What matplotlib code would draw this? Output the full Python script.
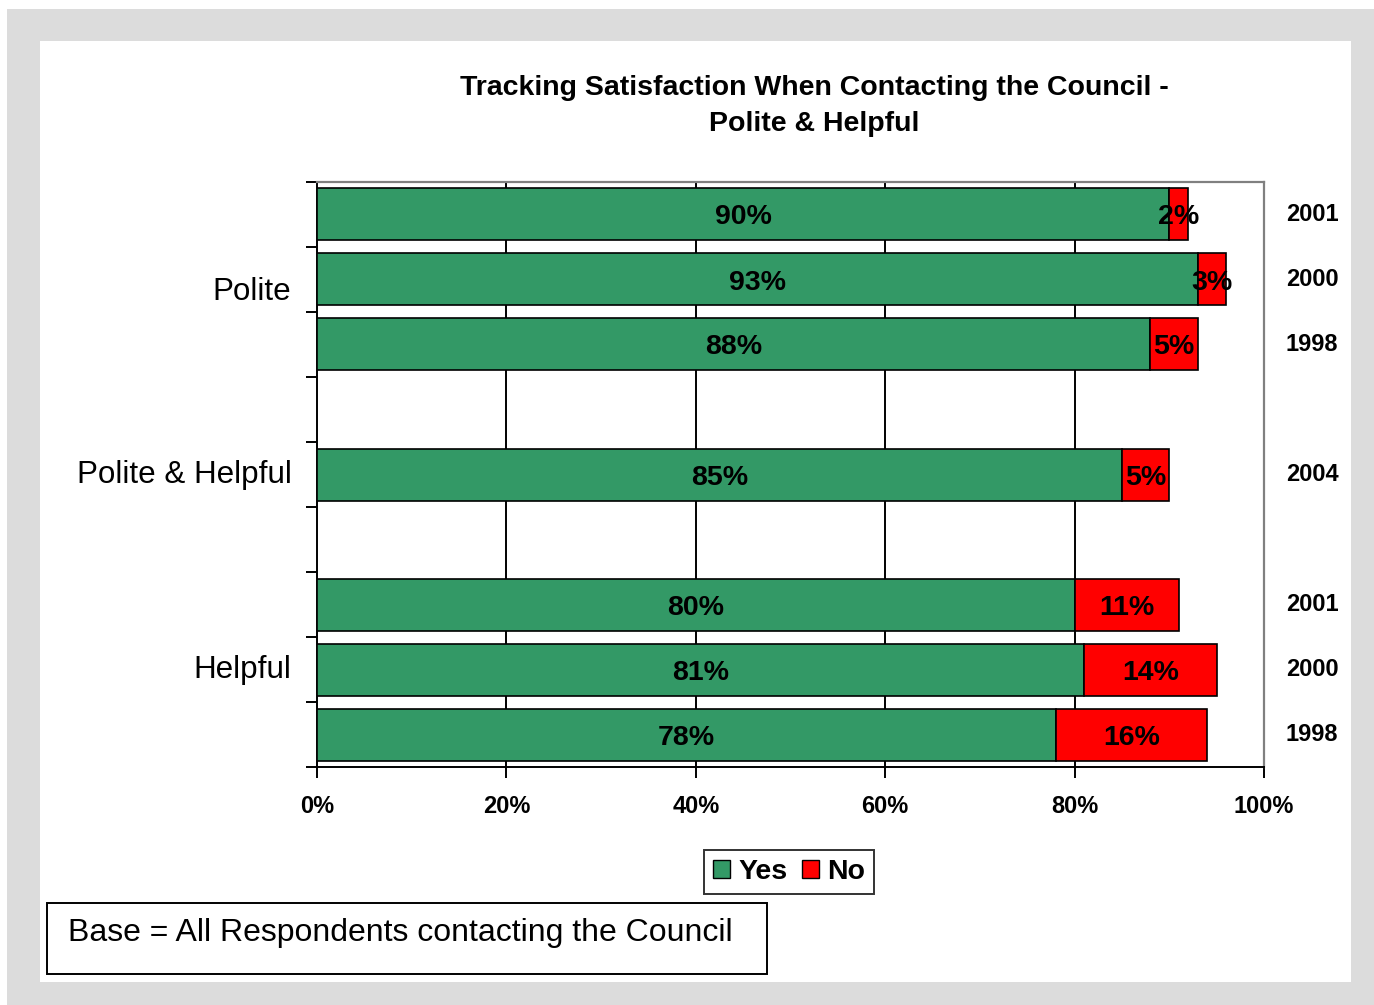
import matplotlib
matplotlib.use("Agg")
import matplotlib.pyplot as plt
from matplotlib.patches import Rectangle, Patch

plt.rcParams['font.family'] = ['Liberation Sans', 'DejaVu Sans']

# rows from top to bottom; None marks an empty spacer row
years = ['2001', '2000', '1998', None, '2004', None, '2001', '2000', '1998']
yes_vals = [90, 93, 88, None, 85, None, 80, 81, 78]
no_vals = [2, 3, 5, None, 5, None, 11, 14, 16]
groups = ['Polite', 'Polite & Helpful', 'Helpful']
group_pos = [1.2, 4, 7]
x_ticks = [0, 20, 40, 60, 80, 100]

GREEN = '#339966'
RED = '#FF0000'
W, H = 1374, 1005


def fx(px):
    return px / W


def fy(py):
    return 1 - py / H


fig = plt.figure(figsize=(W / 100, H / 100), dpi=100)
fig.patch.set_facecolor('white')

# grey frame and white panel behind everything
fig.patches.append(Rectangle((fx(7), fy(1005)), fx(1374 - 7), (1005 - 9) / H,
                             transform=fig.transFigure, facecolor='#DCDCDC',
                             edgecolor='none', zorder=-10))
fig.patches.append(Rectangle((fx(40), fy(982)), fx(1351 - 40), (982 - 41) / H,
                             transform=fig.transFigure, facecolor='white',
                             edgecolor='none', zorder=-9))

ax = fig.add_axes([fx(317), fy(767), fx(1264 - 317), (767 - 182) / H])
ax.set_facecolor('none')

n = len(years)
rows = [i for i in range(n) if years[i] is not None]
ys = [yes_vals[i] for i in rows]
ns = [no_vals[i] for i in rows]

ax.barh(rows, ys, height=0.8, color=GREEN, edgecolor='black', linewidth=1.2, zorder=3)
ax.barh(rows, ns, left=ys, height=0.8, color=RED, edgecolor='black', linewidth=1.2, zorder=3)

for r, y, nv in zip(rows, ys, ns):
    ax.text(y / 2, r, f'{y}%', ha='center', va='center_baseline', fontsize=20.5,
            fontweight='bold', zorder=4)
    ax.text(y + nv / 2, r, f'{nv}%', ha='center', va='center_baseline', fontsize=20.5,
            fontweight='bold', zorder=4)
    ax.text(102.3, r, years[r], ha='left', va='center', fontsize=17,
            fontweight='bold', clip_on=False)

for g, p in zip(groups, group_pos):
    ax.text(-2.7, p, g, ha='right', va='center', fontsize=22.6, clip_on=False)

ax.set_xlim(0, 100)
ax.set_ylim(n - 0.5, -0.5)
ax.set_xticks(x_ticks)
ax.set_xticklabels([f'{t}%' for t in x_ticks], fontsize=17, fontweight='bold')
ax.set_yticks([i - 0.5 for i in range(n + 1)])
ax.set_yticklabels([])
ax.tick_params(axis='both', direction='out', length=8, width=1.4, color='black')
ax.tick_params(axis='x', pad=12)

for t in x_ticks[1:-1]:
    ax.axvline(t, color='black', linewidth=1.4, zorder=1)

ax.spines['left'].set_color('black')
ax.spines['bottom'].set_color('black')
ax.spines['left'].set_linewidth(1.4)
ax.spines['bottom'].set_linewidth(1.4)
ax.spines['top'].set_color('#808080')
ax.spines['right'].set_color('#808080')
ax.spines['top'].set_linewidth(1.6)
ax.spines['right'].set_linewidth(1.6)

fig.text(fx(814), fy(88), 'Tracking Satisfaction When Contacting the Council -',
         ha='center', va='center', fontsize=20.5, fontweight='bold')
fig.text(fx(814), fy(124), 'Polite & Helpful',
         ha='center', va='center', fontsize=20.5, fontweight='bold')

handles = [Patch(facecolor=GREEN, edgecolor='black', label='Yes'),
           Patch(facecolor=RED, edgecolor='black', label='No')]
leg = fig.legend(handles=handles, loc='center', bbox_to_anchor=(fx(789), fy(872)),
                 ncol=2, prop={'weight': 'bold', 'size': 20.5},
                 frameon=True, fancybox=False, edgecolor='black',
                 handlelength=0.6, handleheight=0.6, handletextpad=0.3,
                 columnspacing=0.5, borderpad=0.3, borderaxespad=0)
leg.get_frame().set_linewidth(1.4)

fig.patches.append(Rectangle((fx(47), fy(974)), fx(767 - 47), (974 - 903) / H,
                             transform=fig.transFigure, facecolor='white',
                             edgecolor='black', linewidth=1.4, zorder=1))
fig.text(fx(68), fy(933), 'Base = All Respondents contacting the Council',
         ha='left', va='center', fontsize=23)

fig.savefig('out.png', dpi=100)
